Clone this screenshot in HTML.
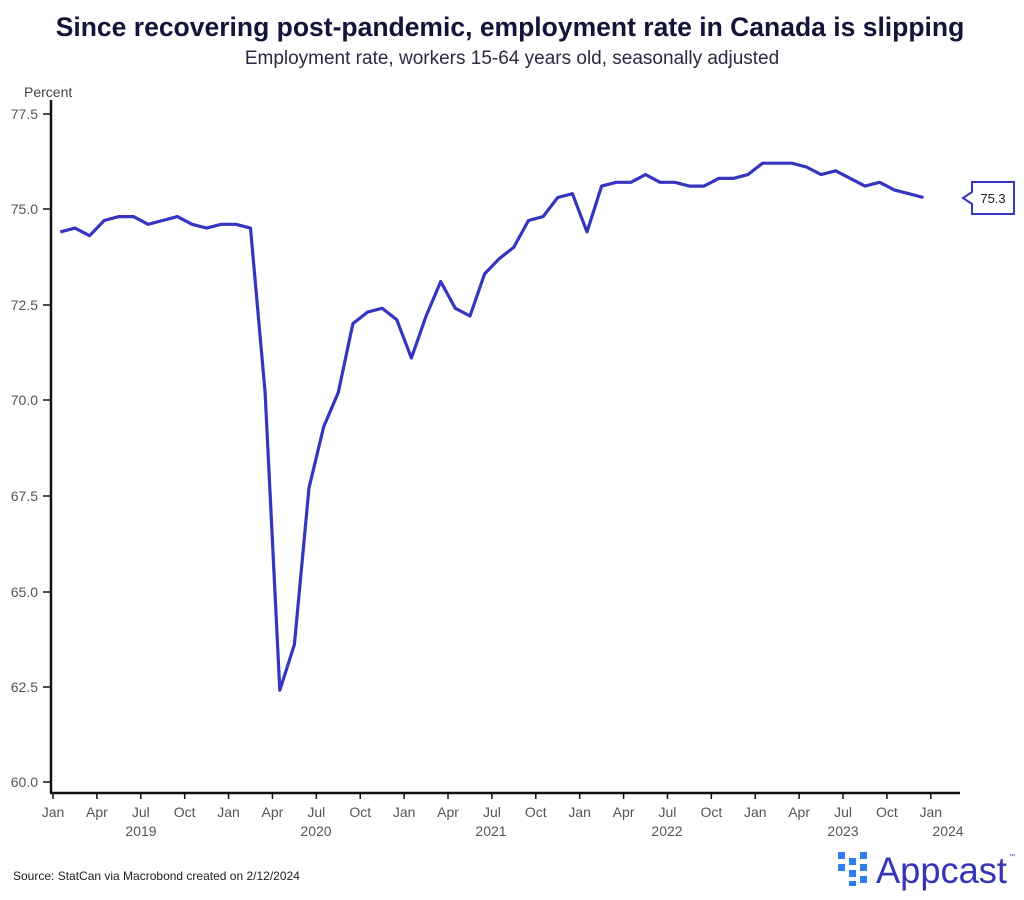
<!DOCTYPE html>
<html><head><meta charset="utf-8"><style>
body{margin:0;background:#fff;width:1024px;height:895px;overflow:hidden;font-family:"Liberation Sans",sans-serif}
</style></head><body>
<svg width="1024" height="895" xmlns="http://www.w3.org/2000/svg" font-family="Liberation Sans, sans-serif">
<text x="510" y="36" text-anchor="middle" font-size="26.5" font-weight="bold" fill="#14143a">Since recovering post-pandemic, employment rate in Canada is slipping</text>
<text x="512" y="64" text-anchor="middle" font-size="19" fill="#2a2a40">Employment rate, workers 15-64 years old, seasonally adjusted</text>
<text x="24" y="97" font-size="14" fill="#444">Percent</text>
<g font-size="14" fill="#555" text-anchor="end">
<text x="38" y="119">77.5</text><text x="38" y="214">75.0</text><text x="38" y="310">72.5</text><text x="38" y="405">70.0</text><text x="38" y="501">67.5</text><text x="38" y="597">65.0</text><text x="38" y="692">62.5</text><text x="38" y="787">60.0</text>
</g>
<g stroke="#111" stroke-width="1.5">
<line x1="43" y1="114" x2="51" y2="114"/><line x1="43" y1="209" x2="51" y2="209"/><line x1="43" y1="305" x2="51" y2="305"/><line x1="43" y1="400" x2="51" y2="400"/><line x1="43" y1="496" x2="51" y2="496"/><line x1="43" y1="592" x2="51" y2="592"/><line x1="43" y1="687" x2="51" y2="687"/><line x1="43" y1="782" x2="51" y2="782"/>
</g>
<line x1="51" y1="100" x2="51" y2="793" stroke="#111" stroke-width="2.5"/>
<line x1="50" y1="793" x2="960" y2="793" stroke="#111" stroke-width="2.5"/>
<g id="ticks" stroke="#111" stroke-width="1.5"></g>
<g id="xl" font-size="14" fill="#555" text-anchor="middle"></g>
<g font-size="14" fill="#555" text-anchor="middle">
<text x="141" y="836">2019</text><text x="316" y="836">2020</text><text x="491" y="836">2021</text><text x="667" y="836">2022</text><text x="843" y="836">2023</text><text x="948" y="836">2024</text>
</g>
<polyline id="ln" fill="none" stroke="#3535c0" stroke-width="3.2" stroke-linejoin="round"/>
<path d="M972 182 H1014 V214 H972 V204 L963 198 L972 192 Z" fill="#fff" stroke="#3535c0" stroke-width="2"/>
<text x="993" y="203" text-anchor="middle" font-size="13" fill="#222">75.3</text>
<text x="13" y="880" font-size="12" fill="#222">Source: StatCan via Macrobond created on 2/12/2024</text>
<g fill="#2f7ef0">
<rect x="838" y="852" width="7" height="7"/><rect x="838" y="864" width="7" height="7"/>
<rect x="849" y="858" width="7" height="7"/><rect x="849" y="870" width="7" height="7"/><rect x="849" y="881" width="7" height="5"/>
<rect x="860" y="852" width="7" height="7"/><rect x="860" y="864" width="7" height="7"/><rect x="860" y="876" width="7" height="7"/>
</g>
<text x="876" y="883" font-size="37" fill="#3535b5" textLength="131" lengthAdjust="spacingAndGlyphs">Appcast</text>
<text x="1009" y="858" font-size="6" fill="#3535b5">™</text>
</svg>
<script>
var d=[74.4,74.5,74.3,74.7,74.8,74.8,74.6,74.7,74.8,74.6,74.5,74.6,
74.6,74.5,70.2,62.4,63.6,67.7,69.3,70.2,72.0,72.3,72.4,72.1,
71.1,72.2,73.1,72.4,72.2,73.3,73.7,74.0,74.7,74.8,75.3,75.4,
74.4,75.6,75.7,75.7,75.9,75.7,75.7,75.6,75.6,75.8,75.8,75.9,
76.2,76.2,76.2,76.1,75.9,76.0,75.8,75.6,75.7,75.5,75.4,75.3];
var m=14.63,p=[];
d.forEach(function(v,i){p.push((53+m*(i+0.5)).toFixed(1)+","+(209+(75-v)*38.2).toFixed(1));});
document.getElementById("ln").setAttribute("points",p.join(" "));
var ns="http://www.w3.org/2000/svg",t=document.getElementById("ticks"),xl=document.getElementById("xl");
var names=["Jan","Apr","Jul","Oct"];
for(var q=0;q<=20;q++){var x=53+m*3*q;
var l=document.createElementNS(ns,"line");l.setAttribute("x1",x);l.setAttribute("x2",x);l.setAttribute("y1",793);l.setAttribute("y2",799);t.appendChild(l);
var tx=document.createElementNS(ns,"text");tx.setAttribute("x",x);tx.setAttribute("y",817);tx.textContent=names[q%4];xl.appendChild(tx);}
</script>
</body></html>
